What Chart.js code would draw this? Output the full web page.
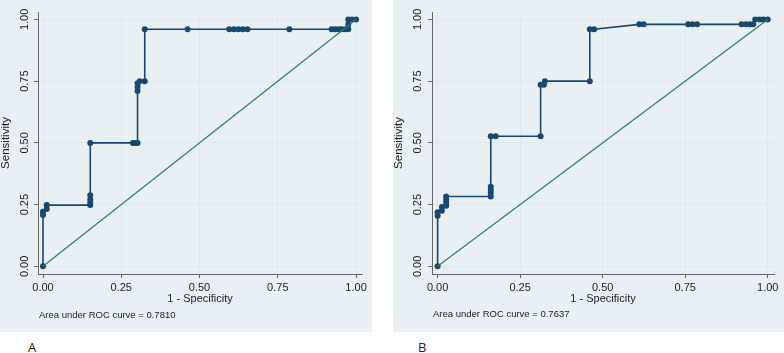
<!DOCTYPE html>
<html lang="en">
<head>
<meta charset="UTF-8">
<title>ROC curves</title>
<script src="https://cdn.jsdelivr.net/npm/chart.js"></script>
<style>
    body { margin: 0; background: #fff; width: 784px; height: 353px; overflow: hidden; position: relative;
           font-family: "Liberation Sans Narrow", "Liberation Sans", Arial, sans-serif; color: #222; }
    .panel { position: absolute; top: 0; height: 332px; background: #e9f0f3; }
    .panel canvas { position: absolute; left: 0; top: 0; }
    .note { position: absolute; font-size: 9.5px; color: #222; white-space: nowrap; }
    .letter { position: absolute; font-family: "Open Sans", "Noto Sans", sans-serif; font-size: 13px; color: #222; }
</style>
</head>
<body>
    <div class="panel" id="panelA" style="left:0;width:372px"><canvas id="rocA" width="372" height="332"></canvas></div>
    <div class="panel" id="panelB" style="left:393px;width:391px"><canvas id="rocB" width="391" height="332"></canvas></div>
    <div class="note" style="left:39px;top:309px">Area under ROC curve = 0.7810</div>
    <div class="note" style="left:433px;top:308px">Area under ROC curve = 0.7637</div>
    <div class="letter" style="left:28px;top:338px">A</div>
    <div class="letter" style="left:418px;top:338px">B</div>

<script>
    // axes
    const tickValues = [0, 0.25, 0.5, 0.75, 1];
    const tickLabels = ['0.00', '0.25', '0.50', '0.75', '1.00'];

    // panel A: 1 - specificity / sensitivity
    const fprA  = [0, 0, 0, 0.012, 0.012, 0.151, 0.151, 0.151, 0.151, 0.151, 0.287, 0.294, 0.302, 0.302, 0.302, 0.302,
                   0.309, 0.325, 0.325, 0.462, 0.595, 0.61, 0.624, 0.638, 0.653, 0.787,
                   0.922, 0.933, 0.944, 0.954, 0.965, 0.975, 0.975, 0.975, 0.987, 1];
    const sensA = [0, 0.208, 0.221, 0.232, 0.248, 0.248, 0.259, 0.271, 0.288, 0.5, 0.5, 0.5, 0.5, 0.71, 0.726, 0.741,
                   0.75, 0.75, 0.96, 0.96, 0.96, 0.96, 0.96, 0.96, 0.96, 0.96,
                   0.96, 0.96, 0.96, 0.96, 0.96, 0.96, 0.979, 1, 1, 1];

    // panel B
    const fprB  = [0, 0, 0, 0.013, 0.013, 0.026, 0.026, 0.026, 0.026, 0.161, 0.161, 0.161, 0.161, 0.161, 0.176,
                   0.312, 0.312, 0.322, 0.325, 0.461, 0.461, 0.474, 0.611, 0.624,
                   0.759, 0.772, 0.786, 0.921, 0.934, 0.946, 0.956, 0.962, 0.975, 0.987, 1];
    const sensB = [0, 0.205, 0.219, 0.225, 0.24, 0.245, 0.258, 0.27, 0.283, 0.283, 0.298, 0.309, 0.322, 0.527, 0.527,
                   0.527, 0.735, 0.735, 0.75, 0.75, 0.96, 0.96, 0.98, 0.98,
                   0.98, 0.98, 0.98, 0.98, 0.98, 0.98, 0.98, 1, 1, 1, 1];

    // reference line
    const diagX = [0, 1];
    const diagY = [0, 1];

    const FONT = '"Liberation Sans Narrow", "Liberation Sans", Arial, sans-serif';
    const toPoints = (xs, ys) => xs.map((x, i) => ({ x: x, y: ys[i] }));

    function drawRoc(id, fpr, sens, cfg) {
        const yTickPlugin = {
            id: 'yTickText',
            afterDraw(chart) {
                const ctx = chart.ctx;
                const y = chart.scales.y;
                ctx.save();
                ctx.fillStyle = '#222';
                ctx.font = '11px ' + FONT;
                ctx.textAlign = 'center';
                ctx.textBaseline = 'alphabetic';
                tickValues.forEach((v, i) => {
                    ctx.save();
                    ctx.translate(cfg.yTickX, y.getPixelForValue(v));
                    ctx.rotate(-Math.PI / 2);
                    ctx.fillText(tickLabels[i], 0, 0);
                    ctx.restore();
                });
                ctx.restore();
            }
        };

        return new Chart(document.getElementById(id), {
            type: 'scatter',
            data: {
                datasets: [
                    {
                        data: toPoints(fpr, sens),
                        showLine: true,
                        borderColor: '#1a476f',
                        backgroundColor: '#1a476f',
                        borderWidth: 1.6,
                        pointRadius: 3,
                        pointBorderWidth: 0,
                        order: 2
                    },
                    {
                        data: toPoints(diagX, diagY),
                        showLine: true,
                        borderColor: '#2e7d6a',
                        borderWidth: 1.2,
                        pointRadius: 0,
                        order: 1
                    }
                ]
            },
            options: {
                responsive: false,
                animation: false,
                layout: { padding: { left: 0, right: 10, top: 12, bottom: 28 } },
                plugins: { legend: { display: false }, tooltip: { enabled: false } },
                scales: {
                    x: {
                        type: 'linear',
                        min: cfg.xMin, max: cfg.xMax,
                        afterBuildTicks: (s) => { s.ticks = tickValues.map(v => ({ value: v })); },
                        afterFit: (s) => { s.height = 30; },
                        grid: { color: '#dfe9ed', tickColor: '#666', tickLength: 4 },
                        border: { color: '#666', width: 1 },
                        ticks: {
                            color: '#222', padding: 3, maxRotation: 0,
                            font: { family: FONT, size: 11 },
                            callback: (v, i) => tickLabels[i]
                        },
                        title: {
                            display: true, text: '1 - Specificity', color: '#222',
                            font: { family: FONT, size: 11, lineHeight: 1.2 },
                            padding: { top: 0, bottom: -2 }
                        }
                    },
                    y: {
                        type: 'linear',
                        min: -0.031, max: 1.03,
                        afterBuildTicks: (s) => { s.ticks = tickValues.map(v => ({ value: v })); },
                        afterFit: (s) => { s.width = cfg.yWidth; },
                        grid: { color: '#dfe9ed', tickColor: '#666', tickLength: 4 },
                        border: { color: '#666', width: 1 },
                        ticks: { display: false },
                        title: {
                            display: true, text: 'Sensitivity', color: '#222',
                            font: { family: FONT, size: 11.5, lineHeight: 1.1 },
                            padding: { top: 0, bottom: 0 }
                        }
                    }
                }
            },
            plugins: [yTickPlugin]
        });
    }

    drawRoc('rocA', fprA, sensA, { xMin: -0.016, xMax: 1.019, yWidth: 38, yTickX: 27.5 });
    drawRoc('rocB', fprB, sensB, { xMin: -0.017, xMax: 1.019, yWidth: 39, yTickX: 28 });
</script>
</body>
</html>
